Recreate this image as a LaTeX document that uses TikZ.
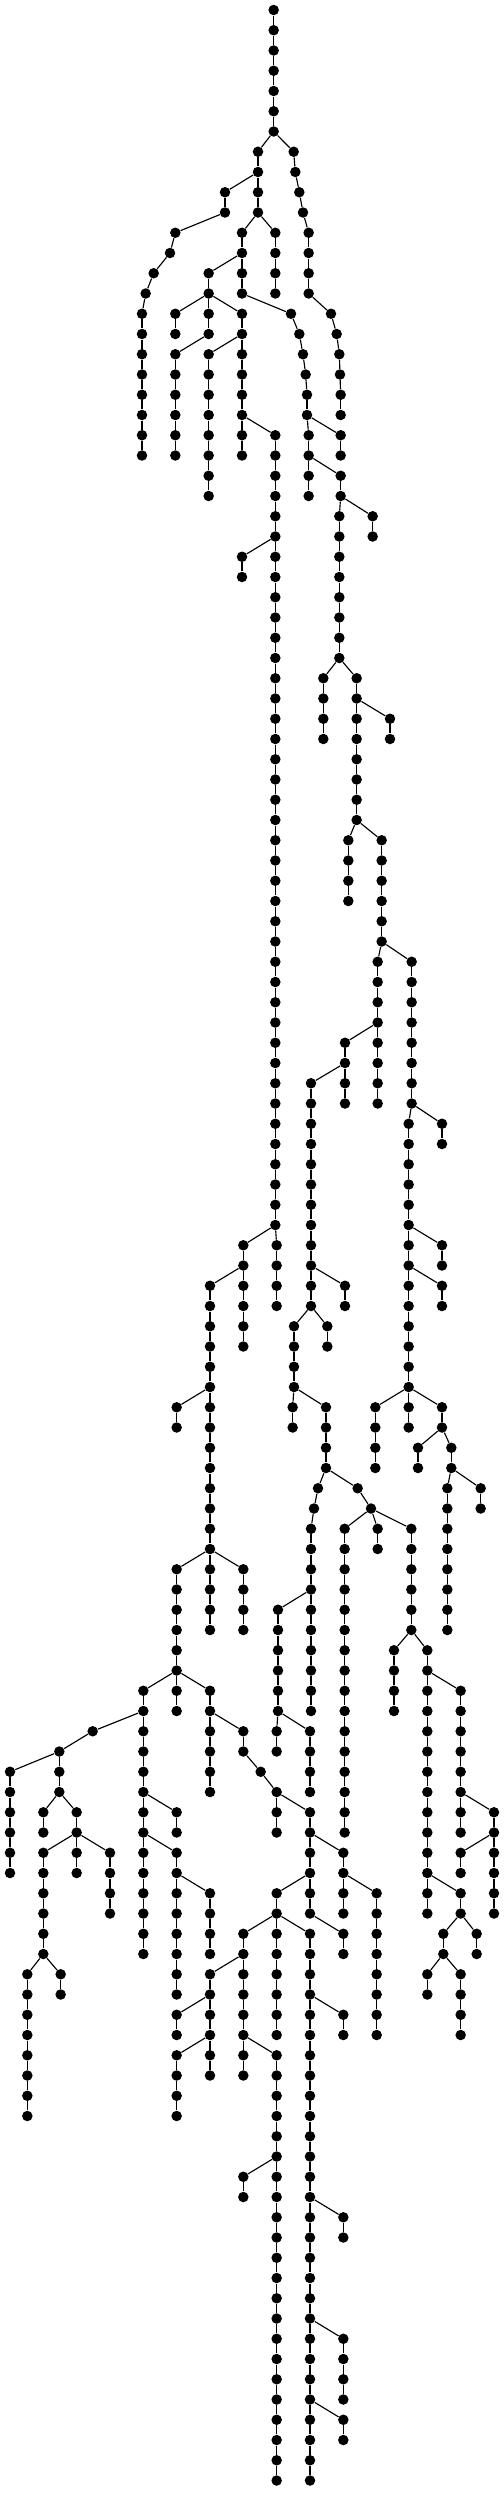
\documentclass[tikz,border=0pt]{standalone}
\begin{document}
\begin{tikzpicture}[
    x=0.066667mm, y=4.05mm,
    vertex/.style={circle, fill=black, inner sep=0pt, minimum size=2.1mm},
    branch/.style={line width=0.65pt}
  ]
\useasboundingbox (0,0.494) rectangle (1512,-122.617);

% vertical runs: x / first level / last level
\foreach \px/\ta/\tb in {
  821/0/6, 774/7/10, 881/7/7, 886/8/8, 898/9/9, 909/10/10, 926/11/14,
  993/15/15, 1010/16/16, 1018/17/17, 1020/18/18, 1022/19/20, 675/9/10,
  526/11/11, 510/12/12, 461/13/13, 437/14/14, 426/15/22, 826/11/14, 726/11/14,
  626/13/16, 526/15/16, 726/15/22, 526/17/22, 626/17/24, 826/21/60, 726/27/28,
  873/15/15, 898/16/16, 909/17/17, 917/18/18, 921/19/20, 926/21/24,
  1022/21/22, 1022/23/24, 1118/25/26, 1018/25/32, 970/33/36, 1070/33/40,
  1170/35/36, 1045/41/44, 1145/41/46, 1133/47/54, 1035/51/54, 1235/47/54,
  1326/55/56, 1226/55/70, 1326/61/62, 1326/63/64, 1126/69/72, 1326/69/70,
  1254/71/72, 1354/71/72, 1442/73/74, 1342/73/80, 933/53/64, 1035/63/64,
  982/65/66, 882/65/68, 878/69/70, 978/69/72, 954/73/73, 942/74/74, 933/75/84,
  834/79/84, 830/85/86, 930/85/88, 1073/73/73, 1113/74/74, 1133/75/76,
  1034/75/90, 1234/75/80, 1182/81/84, 1282/81/94, 1382/83/90, 1482/89/94,
  1382/91/92, 1382/93/94, 1430/95/96, 1330/95/96, 1282/97/98, 1382/97/100,
  830/61/64, 730/61/66, 630/63/80, 530/69/70, 730/77/80, 530/77/84, 430/83/96,
  278/85/85, 178/86/88, 30/87/92, 130/89/90, 230/89/92, 130/91/96, 182/97/98,
  82/97/104, 330/91/94, 530/89/90, 530/91/98, 630/93/96, 530/99/100,
  530/101/104, 630/83/88, 730/85/86, 782/87/87, 830/88/90, 930/89/94,
  1030/91/94, 1130/93/100, 1030/95/96, 830/93/100, 930/95/122, 1030/99/100,
  1030/109/110, 1030/115/118, 1030/119/120, 730/95/102, 630/97/102,
  830/101/122, 730/107/108}{
  \node[vertex] (n\px-\ta) at (\px,-\ta) {};
  \ifnum\tb>\ta\relax
    \pgfmathtruncatemacro\nx{\ta+1}
    \foreach \l [evaluate=\l as \p using int(\l-1)] in {\nx,...,\tb}{
      \node[vertex] (n\px-\l) at (\px,-\l) {};
      \draw[branch] (n\px-\p) -- (n\px-\l);
    }
  \fi
}

% side branches: parent x / level / child x / level
\foreach \xa/\la/\xb/\lb in {
  821/6/774/7, 821/6/881/7, 881/7/886/8, 886/8/898/9, 898/9/909/10,
  909/10/926/11, 926/14/993/15, 993/15/1010/16, 1010/16/1018/17,
  1018/17/1020/18, 1020/18/1022/19, 774/8/675/9, 675/10/526/11,
  526/11/510/12, 510/12/461/13, 461/13/437/14, 437/14/426/15,
  774/10/726/11, 774/10/826/11, 726/12/626/13, 626/14/526/15, 626/14/726/15,
  626/16/526/17, 726/16/626/17, 726/20/826/21, 826/26/726/27,
  726/14/873/15, 873/15/898/16, 898/16/909/17, 909/17/917/18, 917/18/921/19,
  921/20/926/21, 921/20/1022/21, 926/22/1022/23, 1022/24/1018/25,
  1022/24/1118/25, 1018/32/970/33, 1018/32/1070/33, 1070/34/1170/35,
  1070/40/1045/41, 1070/40/1145/41, 1145/46/1133/47, 1145/46/1235/47,
  1133/50/1035/51, 1035/52/933/53, 1235/54/1226/55, 1235/54/1326/55,
  1226/60/1326/61, 1226/62/1326/63, 1226/68/1126/69, 1226/68/1326/69,
  1326/70/1254/71, 1326/70/1354/71, 1354/72/1342/73, 1354/72/1442/73,
  933/62/1035/63, 933/64/882/65, 933/64/982/65, 882/68/878/69, 882/68/978/69,
  978/72/954/73, 954/73/942/74, 942/74/933/75, 933/78/834/79,
  834/84/830/85, 834/84/930/85, 978/72/1073/73, 1073/73/1113/74,
  1113/74/1034/75, 1113/74/1133/75, 1113/74/1234/75, 1234/80/1182/81,
  1234/80/1282/81, 1282/82/1382/83, 1382/88/1482/89, 1482/90/1382/91,
  1282/92/1382/93, 1382/94/1330/95, 1382/94/1430/95, 1330/96/1282/97,
  1330/96/1382/97, 826/60/830/61, 826/60/730/61, 730/62/630/63,
  630/68/530/69, 630/76/530/77, 630/76/730/77, 530/82/430/83, 530/82/630/83,
  430/84/278/85, 278/85/178/86, 178/86/30/87, 178/88/130/89, 178/88/230/89,
  230/90/130/91, 230/90/330/91, 130/96/82/97, 130/96/182/97,
  430/88/530/89, 430/90/530/91, 530/92/630/93, 630/98/530/99,
  630/100/530/101, 630/84/730/85, 730/86/782/87, 782/87/830/88,
  830/88/930/89, 930/90/1030/91, 1030/92/1130/93, 930/94/1030/95,
  930/92/830/93, 830/94/930/95, 830/94/730/95, 930/98/1030/99,
  930/108/1030/109, 930/114/1030/115, 930/118/1030/119, 730/96/630/97,
  730/100/830/101, 830/106/730/107}
  \draw[branch] (n\xa-\la) -- (n\xb-\lb);
\end{tikzpicture}
\end{document}
